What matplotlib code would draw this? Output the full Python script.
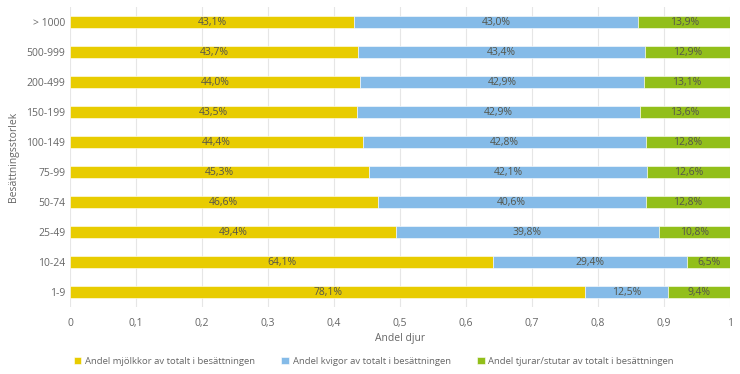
import numpy as np
import matplotlib
matplotlib.use("Agg")
import matplotlib.pyplot as plt

plt.rcParams['font.family'] = ['Open Sans', 'DejaVu Sans']

# Herd size categories, bottom to top
categories = ["1-9", "10-24", "25-49", "50-74", "75-99", "100-149",
              "150-199", "200-499", "500-999", "> 1000"]

# Share of animals (%) per group
mjolkkor = [78.1, 64.1, 49.4, 46.6, 45.3, 44.4, 43.5, 44.0, 43.7, 43.1]
kvigor = [12.5, 29.4, 39.8, 40.6, 42.1, 42.8, 42.9, 42.9, 43.4, 43.0]
tjurar = [9.4, 6.5, 10.8, 12.8, 12.6, 12.8, 13.6, 13.1, 12.9, 13.9]

series_names = ["Andel mjölkkor av totalt i besättningen",
                "Andel kvigor av totalt i besättningen",
                "Andel tjurar/stutar av totalt i besättningen"]
colors = ["#E8CC00", "#85BBE8", "#92BF1A"]

xticks = [0, 0.1, 0.2, 0.3, 0.4, 0.5, 0.6, 0.7, 0.8, 0.9, 1]
xtick_labels = ["0", "0,1", "0,2", "0,3", "0,4", "0,5", "0,6", "0,7", "0,8", "0,9", "1"]

fig = plt.figure(figsize=(7.4, 3.74), dpi=100)
ax = fig.add_axes([70 / 740, 1 - 307 / 374, 660 / 740, 300 / 374])

y = np.arange(len(categories))
data = [np.array(mjolkkor), np.array(kvigor), np.array(tjurar)]
left = np.zeros(len(categories))
for vals, name, col in zip(data, series_names, colors):
    frac = vals / 100.0
    ax.barh(y, frac, left=left, height=0.4, color=col, label=name,
            edgecolor="white", linewidth=0.4, zorder=3)
    # percentage label in the middle of each segment
    for yi, l, f, v in zip(y, left, frac, vals):
        ax.text(l + f / 2, yi, f"{v:.1f}%".replace(".", ","),
                ha="center", va="center", fontsize=7.5, color="#55554a", zorder=4)
    left = left + frac

ax.set_xlim(0, 1)
ax.set_ylim(-0.5, 9.5)
ax.set_yticks(y)
ax.set_yticklabels(categories)
ax.set_xticks(xticks)
ax.set_xticklabels(xtick_labels)
ax.tick_params(axis="both", length=0, labelsize=7.5, colors="#666666")
ax.tick_params(axis="x", pad=8)
ax.grid(axis="x", color="#e6e6e6", linewidth=0.8, zorder=0)
for s in ax.spines.values():
    s.set_visible(False)

ax.set_xlabel("Andel djur", fontsize=7.5, color="#666666", labelpad=3)
ax.set_ylabel("Besättningsstorlek", fontsize=7.5, color="#666666", labelpad=5)

fig.legend(loc="center", bbox_to_anchor=(0.505, 1 - 361 / 374), ncol=3,
           frameon=False, fontsize=6.8, handlelength=0.8, handleheight=0.8,
           handletextpad=0.4, columnspacing=2.8, labelcolor="#666666")

plt.savefig("out.png", dpi=100)
plt.close()
